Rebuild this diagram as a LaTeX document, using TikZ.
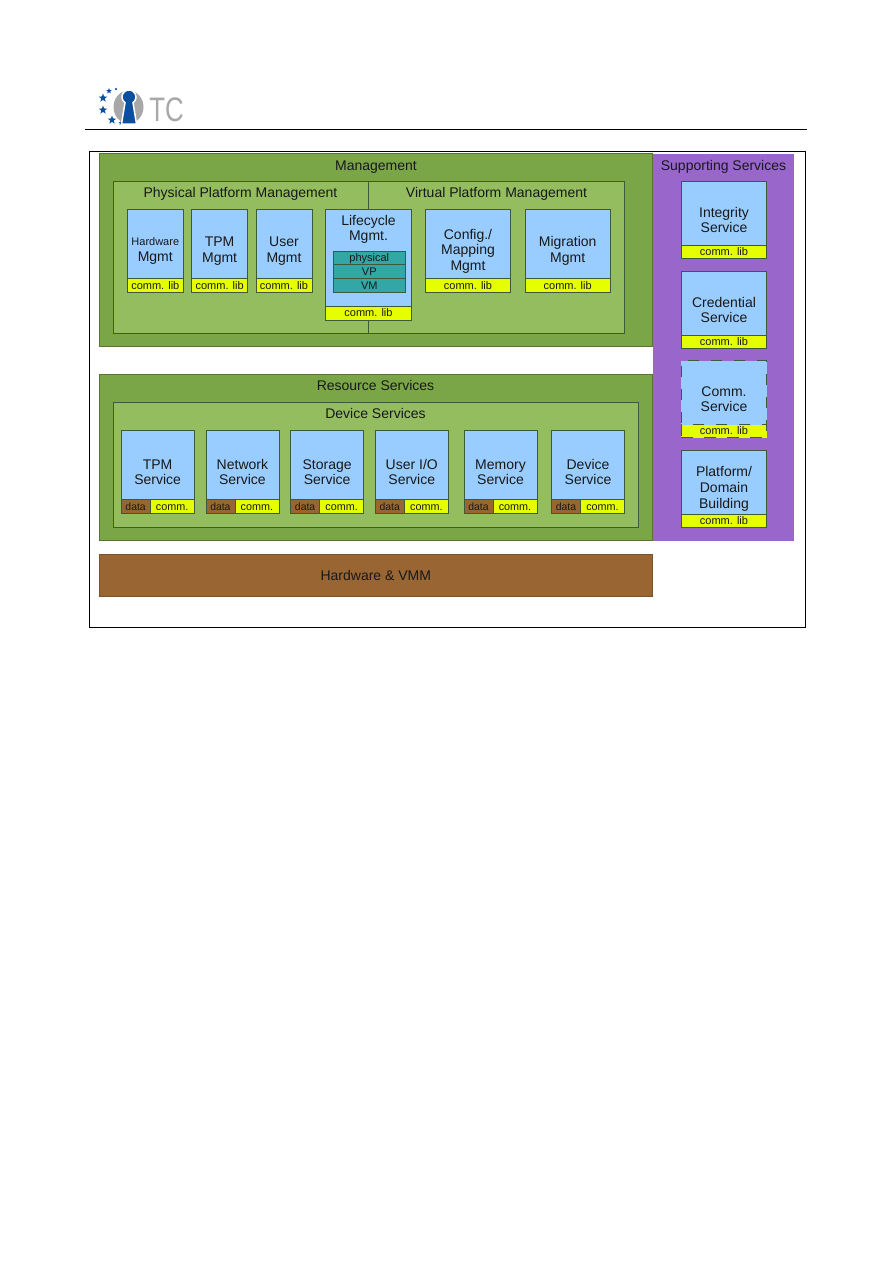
\documentclass[tikz,border=0pt]{standalone}
\usepackage{fontspec}
\setmainfont{Liberation Sans}
\usepackage{tikz}
\usetikzlibrary{shapes.geometric}
\definecolor{MgmtGreen}{HTML}{7BA648}
\definecolor{InnerGreen}{HTML}{93BD5E}
\definecolor{BoxBlue}{HTML}{99CCFF}
\definecolor{LibYellow}{HTML}{E6FF00}
\definecolor{LayerTeal}{HTML}{33A6A6}
\definecolor{SuppPurple}{HTML}{9966CC}
\definecolor{HwBrown}{HTML}{996633}
\definecolor{EdgeDark}{HTML}{3F5A38}
\definecolor{LogoBlue}{HTML}{0B4F9E}
\definecolor{LogoGrey}{HTML}{A8A8A8}
\tikzset{
  panel/.style={rectangle, inner sep=0, outer sep=0, line width=0.7pt},
  outerpanel/.style={panel, fill=MgmtGreen, draw=MgmtGreen!70!black},
  innerpanel/.style={panel, fill=InnerGreen, draw=EdgeDark},
  heading/.style={inner sep=0, text height=11.5pt, text depth=1.5pt, text=black!90, font=\fontsize{14}{16}\selectfont},
  compbox/.style={panel, fill=BoxBlue, draw=EdgeDark, align=center, text=black!90, font=\fontsize{14}{15.6}\selectfont},
  smallbox/.style={compbox, minimum width=56pt, minimum height=83pt},
  widebox/.style={compbox, minimum width=85.5pt, minimum height=83pt},
  suppbox/.style={compbox, minimum width=85.5pt, minimum height=77pt},
  devbox/.style={compbox, minimum width=73pt, minimum height=83.2pt},
  libbar/.style={panel, fill=LibYellow, draw=EdgeDark, anchor=south, minimum height=14pt, text height=9pt, text depth=1.5pt, text=black!90, font=\fontsize{11}{12}\selectfont},
  databar/.style={panel, fill=HwBrown, draw=EdgeDark, anchor=south west, minimum width=29pt, minimum height=14.4pt, text height=9pt, text depth=1.5pt, text=black!90, font=\fontsize{10.4}{12}\selectfont},
  commbar/.style={libbar, anchor=south east, minimum width=44pt, minimum height=14.4pt, font=\fontsize{10.8}{12}\selectfont},
  layerbar/.style={panel, fill=LayerTeal, draw=EdgeDark, minimum width=71.5pt, minimum height=13.8pt, text height=9pt, text depth=1.5pt, text=black!90, font=\fontsize{11}{12}\selectfont},
  logostar/.style={star, star points=5, star point ratio=2.4, fill=LogoBlue, inner sep=0},
}
\begin{document}
\begin{tikzpicture}[x=1pt, y=-1pt]
\useasboundingbox (0,0) rectangle (893,1263);
% logo and header rule
\node[logostar, minimum size=9pt] (starone) at (103,98) {};
\node[logostar, minimum size=9pt] (startwo) at (103,110) {};
\node[logostar, minimum size=9pt] (starthree) at (112,120) {};
\node[logostar, minimum size=6pt] (starfour) at (109,91) {};
\node[logostar, minimum size=3pt] (starfive) at (116,89) {};
\node[logostar, minimum size=5pt] (starsix) at (121,123) {};
\node[ellipse, fill=LogoGrey, inner sep=0, minimum width=30pt, minimum height=33pt] (logoring) at (128.5,107) {};
\fill[LogoBlue, draw=white, line width=1.5pt] (125,102.7) arc[start angle=125, end angle=415, radius=7] -- (136.5,124) -- (121.5,124) -- cycle;
\node[inner sep=0, text=LogoGrey, font=\fontsize{34}{34}\selectfont, xscale=0.76] (logotext) at (166.5,109.5) {TC};
\coordinate (ruleleft) at (85,129.5);
\coordinate (ruleright) at (807,129.5);
\draw[line width=0.9pt] (ruleleft) -- (ruleright);
%
\node[panel, draw=black, line width=0.9pt, minimum width=716pt, minimum height=476pt] (frame) at (447,389.7) {};
%
\node[outerpanel, minimum width=553.6pt, minimum height=193pt] (management) at (375.8,250.3) {};
\node[outerpanel, minimum width=553.6pt, minimum height=166pt] (resource) at (375.8,457.8) {};
\node[panel, fill=SuppPurple, minimum width=141.3pt, minimum height=387pt] (supporting) at (723.3,347.3) {};
\node[panel, fill=HwBrown, draw=HwBrown!80!black, minimum width=553.6pt, minimum height=41.5pt, text height=11.5pt, text depth=1.5pt, text=black!90, font=\fontsize{14}{16}\selectfont] (hardware) at (375.8,575.3) {Hardware \& VMM};
%
\node[heading] (mgmttitle) at (376,165) {Management};
\node[heading] (supptitle) at (723.5,165) {Supporting Services};
\node[heading] (restitle) at (375.5,385.5) {Resource Services};
%
\node[innerpanel, minimum width=511.6pt, minimum height=151.8pt] (platform) at (368.8,257.5) {};
\coordinate (splittop) at (368.8,181.7);
\coordinate (splitbottom) at (368.8,333.5);
\draw[EdgeDark, line width=0.7pt] (splittop) -- (splitbottom);
\node[heading] (phystitle) at (240.5,192.3) {Physical Platform Management};
\node[heading] (virttitle) at (496.5,192.3) {Virtual Platform Management};
%
\node[smallbox] (hwbox) at (155.3,251) {\fontsize{11}{14.4}\selectfont Hardware\\Mgmt};
\node[libbar, minimum width=56pt] (hwlib) at (hwbox.south) {comm. lib};
\node[smallbox] (tpmbox) at (219.6,251) {TPM\\Mgmt};
\node[libbar, minimum width=56pt] (tpmlib) at (tpmbox.south) {comm. lib};
\node[smallbox] (userbox) at (284,251) {User\\Mgmt};
\node[libbar, minimum width=56pt] (userlib) at (userbox.south) {comm. lib};
\node[widebox, minimum height=110.5pt] (lifebox) at (368.5,264.7) {};
\node[libbar, minimum width=85.5pt] (lifelib) at (lifebox.south) {comm. lib};
\node[heading, align=center, text height={}, text depth={}, font=\fontsize{14}{15.6}\selectfont] (lifetext) at (368.5,229.5) {Lifecycle\\Mgmt.};
\node[layerbar] (physlayer) at (369.3,257.9) {physical};
\node[layerbar] (vplayer) at (369.3,271.5) {VP};
\node[layerbar] (vmlayer) at (369.3,285.4) {VM};
\node[widebox] (cfgbox) at (468,251) {Config./\\Mapping\\Mgmt};
\node[libbar, minimum width=85.5pt] (cfglib) at (cfgbox.south) {comm. lib};
\node[widebox] (migbox) at (567.7,251) {Migration\\Mgmt};
\node[libbar, minimum width=85.5pt] (miglib) at (migbox.south) {comm. lib};
%
\node[suppbox] (intbox) at (724,220.1) {Integrity\\Service};
\node[libbar, minimum width=85.5pt, minimum height=13.2pt] (intlib) at (intbox.south) {comm. lib};
\node[suppbox] (credbox) at (724,309.8) {Credential\\Service};
\node[libbar, minimum width=85.5pt, minimum height=13.2pt] (credlib) at (credbox.south) {comm. lib};
\node[suppbox, dashed, dash pattern=on 11.5pt off 11.5pt] (commbox) at (724,399) {Comm.\\Service};
\node[libbar, dashed, dash pattern=on 11.5pt off 11.5pt, minimum width=85.5pt, minimum height=13pt] (commlib) at (commbox.south) {comm. lib};
\node[suppbox] (domainbox) at (724,488.8) {Platform/\\Domain\\Building};
\node[libbar, minimum width=85.5pt, minimum height=13.2pt] (domainlib) at (domainbox.south) {comm. lib};
%
\node[innerpanel, minimum width=525.2pt, minimum height=125pt] (device) at (375.9,465.2) {};
\node[heading] (devtitle) at (375.5,413.3) {Device Services};
%
\node[devbox] (tpmsvc) at (157.6,472.1) {TPM\\Service};
\node[databar] (tpmdata) at (tpmsvc.south west) {data};
\node[commbar] (tpmcomm) at (tpmsvc.south east) {comm.};
\node[devbox] (netsvc) at (242.4,472.1) {Network\\Service};
\node[databar] (netdata) at (netsvc.south west) {data};
\node[commbar] (netcomm) at (netsvc.south east) {comm.};
\node[devbox] (storesvc) at (327.1,472.1) {Storage\\Service};
\node[databar] (storedata) at (storesvc.south west) {data};
\node[commbar] (storecomm) at (storesvc.south east) {comm.};
\node[devbox] (iosvc) at (411.8,472.1) {User I/O\\Service};
\node[databar] (iodata) at (iosvc.south west) {data};
\node[commbar] (iocomm) at (iosvc.south east) {comm.};
\node[devbox] (memsvc) at (500.5,472.1) {Memory\\Service};
\node[databar] (memdata) at (memsvc.south west) {data};
\node[commbar] (memcomm) at (memsvc.south east) {comm.};
\node[devbox] (devsvc) at (588,472.1) {Device\\Service};
\node[databar] (devdata) at (devsvc.south west) {data};
\node[commbar] (devcomm) at (devsvc.south east) {comm.};
\end{tikzpicture}
\end{document}
